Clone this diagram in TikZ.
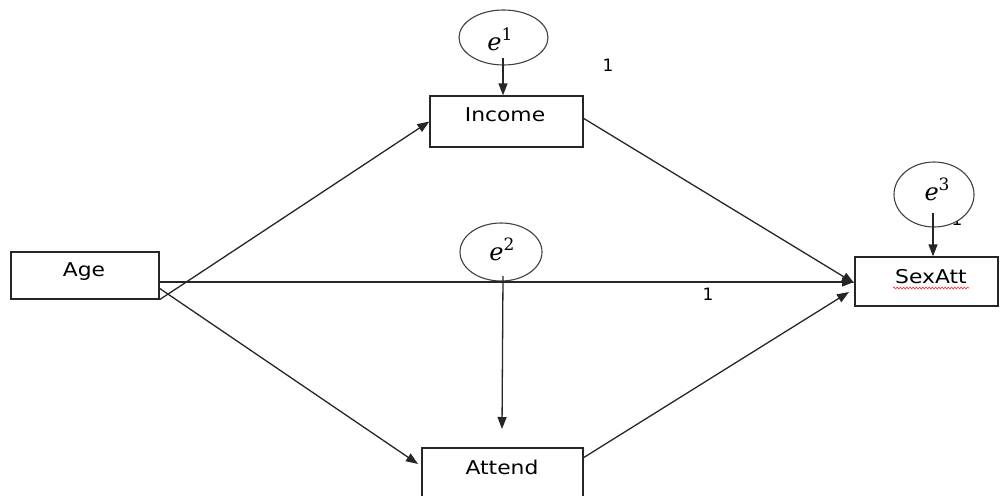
\documentclass[tikz,border=0pt]{standalone}
\usepackage{fontspec}
\usepackage{graphicx}
\setmainfont{DejaVu Sans}
\newfontfamily\efont{DejaVu Serif}
\usetikzlibrary{arrows.meta,decorations.pathmorphing,shapes.geometric}
\tikzset{
  box/.style={draw=black!85, line width=1.3pt, rectangle, inner sep=0pt},
  errnode/.style={draw=black!75, line width=1.1pt, ellipse, inner sep=0pt, fill=white},
  lbl/.style={inner sep=0pt, text=black, font=\fontsize{19}{22}\selectfont},
  elbl/.style={inner sep=0pt, text=black, font=\efont\fontsize{24}{28}\selectfont},
  onelbl/.style={inner sep=0pt, text=black, font=\fontsize{17}{19}\selectfont},
  conn/.style={draw=black!85, line width=1.3pt},
  arr/.style={conn, -{Triangle[length=12pt,width=9pt]}}
}
\newcommand{\wtxt}[1]{\scalebox{1.15}[1]{#1}}
\newcommand{\eterm}[1]{{\itshape e}\raisebox{0.42em}{\fontsize{17}{19}\selectfont #1}}
\begin{document}
\begin{tikzpicture}[x=1pt,y=-1pt]
\useasboundingbox (0,0) rectangle (1000,495);
\clip (0,0) rectangle (1000,495);
% boxes
\node[box, minimum width=153pt, minimum height=51pt] (income) at (506.5,121.5) {};
\node[box, minimum width=148pt, minimum height=47pt] (age) at (85,275.5) {};
\node[box, minimum width=143pt, minimum height=49pt] (sexatt) at (926.5,281.5) {};
\node[box, minimum width=161pt, minimum height=60pt] (attend) at (502.5,478) {};
% box labels
\node[lbl] (incomeT) at (505,115) {\wtxt{Income}};
\node[lbl] (ageT) at (84,272) {\wtxt{Age}};
\node[lbl] (sexattT) at (931,277) {\wtxt{SexAtt}};
\node[lbl] (attendT) at (502,467) {\wtxt{Attend}};
% spell-check underline
\coordinate (wl) at (893,288);
\coordinate (wr) at (969,288);
\draw[red!85, line width=0.6pt, decorate, decoration={snake, amplitude=0.9pt, segment length=3.2pt}] (wl) -- (wr);
% partly hidden 1 behind e3
\node[onelbl] (one3) at (957,219) {1};
% error terms
\node[errnode, minimum width=89pt, minimum height=55pt] (e1) at (503.5,37.5) {};
\node[errnode, minimum width=82pt, minimum height=58pt] (e2) at (501,252) {};
\node[errnode, minimum width=80pt, minimum height=65pt] (e3) at (934,194.5) {};
\node[elbl] (e1T) at (500,39) {\eterm{1}};
\node[elbl] (e2T) at (502,249) {\eterm{2}};
\node[elbl] (e3T) at (937,189) {\eterm{3}};
% path labels
\node[onelbl] (one1) at (608,65.5) {1};
\node[onelbl] (one2) at (708,294) {1};
% connector end coordinates
\coordinate (e1s) at (503,58);
\coordinate (e2s) at (503,276);
\coordinate (e2t) at (502,429);
\coordinate (e3s) at (933,213);
\coordinate (ageH) at (159,282);
\coordinate (sexH) at (854,282);
\coordinate (ageD) at (159,288);
\coordinate (attW) at (418,464);
\coordinate (incE) at (583,118);
\coordinate (sexI) at (854,283);
\coordinate (attE) at (583,458);
\coordinate (sexA) at (849,292);
% connectors
\draw[arr] (e1s) -- (e1s |- income.north);
\draw[arr] (age.south east) -- (income.west);
\draw[arr] (ageD) -- (attW);
\draw[arr] (ageH) -- (sexH);
\draw[arr] (incE) -- (sexI);
\draw[arr] (attE) -- (sexA);
\draw[arr] (e2s) -- (e2t);
\draw[arr] (e3s) -- (e3s |- sexatt.north);
\end{tikzpicture}
\end{document}
